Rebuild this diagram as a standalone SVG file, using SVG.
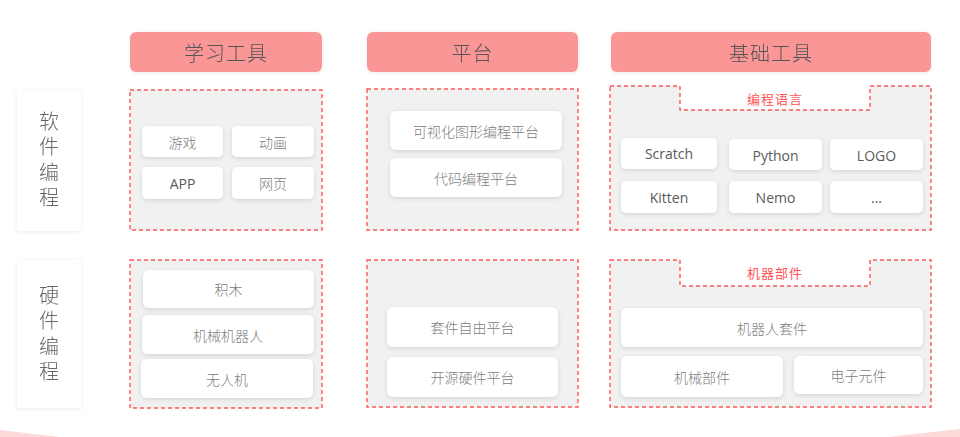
<svg xmlns="http://www.w3.org/2000/svg" width="960" height="437" viewBox="0 0 960 437">
<defs>
<filter id="sh" x="-20%" y="-30%" width="140%" height="170%">
<feDropShadow dx="0" dy="1.5" stdDeviation="2" flood-color="#000" flood-opacity="0.12"/>
</filter>
<filter id="shs" x="-20%" y="-20%" width="140%" height="140%">
<feDropShadow dx="0" dy="1" stdDeviation="2" flood-color="#000" flood-opacity="0.08"/>
</filter>
<style>
.hdr{fill:#fa9696;}
.hdrt{font-family:"Noto Sans CJK SC","Noto Sans",sans-serif;font-size:20px;fill:#555;text-anchor:middle;dominant-baseline:central;font-weight:300;letter-spacing:1px;}
.side{fill:#fff;}
.sidet{font-family:"Noto Sans CJK SC",sans-serif;font-size:20px;fill:#666;text-anchor:middle;font-weight:300;writing-mode:vertical-rl;letter-spacing:5.5px;}
.grp{fill:#f1f1f1;stroke:#f55;stroke-width:1.4;stroke-dasharray:4 3;}
.card{fill:#fff;}
.ct{font-family:"Noto Sans CJK SC","Noto Sans",sans-serif;font-size:14px;fill:#808080;text-anchor:middle;dominant-baseline:central;font-weight:300;}
.et{font-family:"Open Sans","Noto Sans",sans-serif;font-size:14px;fill:#5a5a5a;text-anchor:middle;dominant-baseline:central;}
.tab{font-family:"Noto Sans CJK SC",sans-serif;font-size:13px;fill:#f55;text-anchor:middle;dominant-baseline:central;letter-spacing:1px;}
</style>
</defs>
<rect width="960" height="437" fill="#fff"/>
<path d="M0 430 L60 437 L0 437 Z" fill="#fdd9d9"/>
<path d="M960 429 L888 437 L960 437 Z" fill="#fdd9d9"/>

<g id="header-learn" filter="url(#shs)"><rect class="hdr" x="130" y="32" width="192" height="40" rx="6"/><text class="hdrt" x="226" y="52">学习工具</text></g>
<g id="header-platform" filter="url(#shs)"><rect class="hdr" x="367" y="32" width="211" height="40" rx="6"/><text class="hdrt" x="472.5" y="52">平台</text></g>
<g id="header-basic" filter="url(#shs)"><rect class="hdr" x="611" y="32" width="320" height="40" rx="6"/><text class="hdrt" x="771" y="52">基础工具</text></g>

<g id="side-software" filter="url(#shs)"><rect class="side" x="17" y="90" width="64" height="141"/>
<text class="sidet" x="49" y="162">软件编程</text></g>
<g id="side-hardware" filter="url(#shs)"><rect class="side" x="17" y="260" width="64" height="148"/>
<text class="sidet" x="49" y="336">硬件编程</text></g>

<g id="sw-learn">
<rect class="grp" x="130" y="90" width="192" height="140"/>
<g filter="url(#sh)">
<rect class="card" x="142" y="126" width="81" height="31" rx="5"/>
<rect class="card" x="232" y="126" width="82" height="31" rx="5"/>
<rect class="card" x="142" y="167" width="81" height="32" rx="5"/>
<rect class="card" x="232" y="167" width="82" height="32" rx="5"/>
</g>
<text class="ct" x="182.5" y="141.5">游戏</text>
<text class="ct" x="273" y="141.5">动画</text>
<text class="et" x="182.5" y="183">APP</text>
<text class="ct" x="273" y="183">网页</text>
</g>

<g id="sw-platform">
<rect class="grp" x="367" y="89" width="211" height="141"/>
<g filter="url(#sh)">
<rect class="card" x="390" y="111" width="172" height="39" rx="6"/>
<rect class="card" x="390" y="158" width="172" height="39" rx="6"/>
</g>
<text class="ct" x="476" y="130.5">可视化图形编程平台</text>
<text class="ct" x="476" y="177.5">代码编程平台</text>
</g>

<g id="sw-basic">
<path class="grp" d="M610 86 H680 V110 H870 V86 H931 V230 H610 Z"/>
<text class="tab" x="775" y="98">编程语言</text>
<g filter="url(#sh)">
<rect class="card" x="621" y="138" width="96" height="31" rx="5"/>
<rect class="card" x="729" y="139" width="93" height="31" rx="5"/>
<rect class="card" x="830" y="139" width="93" height="31" rx="5"/>
<rect class="card" x="621" y="181" width="96" height="32" rx="5"/>
<rect class="card" x="729" y="181" width="93" height="32" rx="5"/>
<rect class="card" x="830" y="181" width="93" height="32" rx="5"/>
</g>
<text class="et" x="669" y="153.5">Scratch</text>
<text class="et" x="775.5" y="155">Python</text>
<text class="et" x="876.5" y="155">LOGO</text>
<text class="et" x="669" y="197">Kitten</text>
<text class="et" x="775.5" y="197">Nemo</text>
<text class="et" x="876.5" y="197">...</text>
</g>

<g id="hw-learn">
<rect class="grp" x="130" y="260" width="192" height="148"/>
<g filter="url(#sh)">
<rect class="card" x="143" y="270" width="171" height="38" rx="6"/>
<rect class="card" x="142" y="315" width="172" height="39" rx="6"/>
<rect class="card" x="141" y="359" width="172" height="39" rx="6"/>
</g>
<text class="ct" x="228.5" y="289">积木</text>
<text class="ct" x="228" y="334.5">机械机器人</text>
<text class="ct" x="227" y="378.5">无人机</text>
</g>

<g id="hw-platform">
<rect class="grp" x="367" y="260" width="211" height="147"/>
<g filter="url(#sh)">
<rect class="card" x="387" y="307" width="171" height="40" rx="6"/>
<rect class="card" x="387" y="357" width="171" height="40" rx="6"/>
</g>
<text class="ct" x="472.5" y="327">套件自由平台</text>
<text class="ct" x="472.5" y="377">开源硬件平台</text>
</g>

<g id="hw-basic">
<path class="grp" d="M610 260 H680 V286 H870 V260 H931 V407 H610 Z"/>
<text class="tab" x="775" y="272">机器部件</text>
<g filter="url(#sh)">
<rect class="card" x="621" y="308" width="302" height="39" rx="6"/>
<rect class="card" x="621" y="356" width="162" height="41" rx="6"/>
<rect class="card" x="794" y="356" width="129" height="38" rx="6"/>
</g>
<text class="ct" x="772" y="327.5">机器人套件</text>
<text class="ct" x="702" y="376.5">机械部件</text>
<text class="ct" x="858.5" y="375">电子元件</text>
</g>

<g id="connectors"></g>
</svg>
